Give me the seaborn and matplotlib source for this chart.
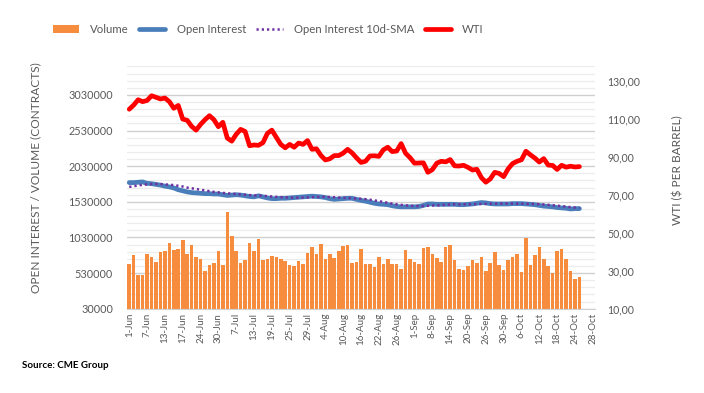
import matplotlib
matplotlib.use("Agg")
import matplotlib.pyplot as plt
import seaborn as sns
import pandas as pd
from matplotlib.lines import Line2D
from matplotlib.patches import Patch
from matplotlib.ticker import FixedLocator, FuncFormatter

# ---------------- data ----------------
tick_labels = ["1-Jun", "7-Jun", "13-Jun", "17-Jun", "24-Jun", "30-Jun", "7-Jul",
               "13-Jul", "19-Jul", "25-Jul", "29-Jul", "4-Aug", "10-Aug", "16-Aug",
               "22-Aug", "26-Aug", "1-Sep", "8-Sep", "14-Sep", "20-Sep", "26-Sep",
               "30-Sep", "6-Oct", "12-Oct", "18-Oct", "24-Oct", "28-Oct"]
n_categories = 105          # trading days 1-Jun .. 28-Oct
label_every = 4

volume = [654000, 784000, 503000, 503000, 798000, 756000, 686000, 826000, 840000, 953000,
          854000, 868000, 995000, 798000, 925000, 756000, 728000, 560000, 644000, 672000,
          840000, 644000, 1388000, 1051000, 840000, 672000, 714000, 953000, 840000, 1009000,
          714000, 728000, 770000, 756000, 728000, 700000, 644000, 630000, 700000, 658000,
          812000, 897000, 798000, 939000, 728000, 798000, 742000, 840000, 911000, 925000,
          672000, 686000, 868000, 658000, 658000, 616000, 756000, 658000, 728000, 658000,
          658000, 588000, 854000, 728000, 686000, 658000, 883000, 897000, 798000, 742000,
          686000, 897000, 925000, 714000, 588000, 574000, 630000, 714000, 672000, 756000,
          560000, 672000, 826000, 644000, 574000, 714000, 756000, 798000, 546000, 1023000,
          644000, 784000, 897000, 728000, 630000, 531000, 840000, 868000, 728000, 560000,
          447000, 475000]

open_interest = [1800000, 1800000, 1805000, 1810000, 1790000, 1785000, 1775000, 1765000, 1750000, 1740000,
                 1725000, 1700000, 1685000, 1670000, 1660000, 1655000, 1650000, 1645000, 1645000, 1640000,
                 1640000, 1630000, 1620000, 1625000, 1630000, 1625000, 1615000, 1605000, 1600000, 1615000,
                 1600000, 1585000, 1575000, 1575000, 1580000, 1580000, 1585000, 1590000, 1595000, 1600000,
                 1605000, 1610000, 1605000, 1600000, 1590000, 1575000, 1565000, 1570000, 1575000, 1580000,
                 1580000, 1565000, 1550000, 1540000, 1525000, 1510000, 1500000, 1495000, 1490000, 1475000,
                 1465000, 1460000, 1460000, 1460000, 1460000, 1465000, 1480000, 1500000, 1500000, 1495000,
                 1495000, 1495000, 1495000, 1495000, 1490000, 1490000, 1495000, 1500000, 1510000, 1520000,
                 1515000, 1505000, 1500000, 1500000, 1500000, 1500000, 1505000, 1505000, 1505000, 1500000,
                 1495000, 1490000, 1480000, 1470000, 1465000, 1460000, 1450000, 1445000, 1440000, 1430000,
                 1435000, 1435000]

oi_sma_10d = [1740000, 1750000, 1760000, 1770000, 1775000, 1780000, 1780000, 1780000, 1775000, 1770000,
              1765000, 1755000, 1745000, 1730000, 1720000, 1710000, 1700000, 1690000, 1680000, 1670000,
              1663000, 1655000, 1650000, 1645000, 1640000, 1635000, 1630000, 1625000, 1620000, 1618000,
              1615000, 1610000, 1605000, 1600000, 1595000, 1592000, 1590000, 1588000, 1588000, 1590000,
              1592000, 1595000, 1598000, 1600000, 1600000, 1598000, 1595000, 1590000, 1587000, 1585000,
              1580000, 1577000, 1573000, 1568000, 1560000, 1550000, 1540000, 1528000, 1517000, 1505000,
              1495000, 1487000, 1480000, 1475000, 1472000, 1470000, 1472000, 1475000, 1478000, 1480000,
              1484000, 1488000, 1492000, 1495000, 1495000, 1495000, 1495000, 1496000, 1498000, 1500000,
              1502000, 1504000, 1505000, 1506000, 1507000, 1507000, 1506000, 1505000, 1505000, 1504000,
              1502000, 1500000, 1497000, 1493000, 1488000, 1482000, 1476000, 1470000, 1463000, 1456000,
              1450000, 1445000]

wti = [115.0, 117.2, 120.0, 119.0, 119.6, 122.1, 121.3, 120.4, 120.9, 119.0,
       115.5, 117.0, 109.8, 109.2, 106.0, 104.0, 107.0, 109.5, 111.6, 109.5,
       105.8, 108.1, 99.8, 98.2, 101.8, 104.4, 103.3, 95.8, 96.2, 96.0,
       97.4, 102.3, 104.0, 100.2, 96.5, 94.7, 96.5, 95.0, 97.2, 96.5,
       98.5, 93.9, 94.2, 90.7, 88.3, 88.9, 90.6, 90.6, 91.9, 93.9,
       92.0, 89.4, 87.0, 87.6, 90.4, 90.5, 90.2, 93.6, 95.0, 92.7,
       93.0, 96.9, 91.8, 89.5, 86.6, 86.7, 86.8, 81.8, 83.2, 86.6,
       87.6, 87.3, 88.5, 85.2, 85.1, 85.5, 84.4, 83.0, 83.4, 79.0,
       76.6, 78.3, 81.8, 81.2, 79.5, 83.6, 86.4, 87.6, 88.4, 92.9,
       91.0, 89.3, 87.2, 89.0, 85.6, 85.4, 83.3, 85.5, 84.5, 85.0,
       84.6, 84.8]

# ---------------- styling ----------------
sns.set_style("white")
plt.rcParams["font.family"] = ["Lato", "DejaVu Sans"]
TXT = "#595959"
ORANGE = "#F68D3E"
BLUE = "#4A7EBB"
PURPLE = "#7030A0"
RED = "#FF0000"

pos = list(range(len(volume)))
df = pd.DataFrame({"pos": pos, "volume": volume, "oi": open_interest,
                   "sma": oi_sma_10d, "wti": wti})

fig = plt.figure(figsize=(7.04, 3.93), dpi=100)
ax = fig.add_axes([0.1804, 0.2145, 0.6648, 0.6163])
ax2 = ax.twinx()

sns.barplot(data=df, x="pos", y="volume", color=ORANGE, width=0.8,
            errorbar=None, saturation=1, ax=ax, zorder=2,
            linewidth=0, edgecolor="none")
sns.lineplot(data=df, x="pos", y="oi", color=BLUE, lw=3.4, ax=ax, legend=False,
             zorder=3, solid_capstyle="round", solid_joinstyle="round")
sns.lineplot(data=df, x="pos", y="sma", color=PURPLE, lw=1.8, ax=ax, legend=False,
             zorder=4, dashes=False, linestyle=(0, (0.9, 1.2)))
sns.lineplot(data=df, x="pos", y="wti", color=RED, lw=3.4, ax=ax2, legend=False,
             zorder=5, solid_capstyle="round", solid_joinstyle="round")

# left axis
ax.set_xlim(-0.5, n_categories - 0.5)
ax.set_ylim(30000, 3430000)
ax.yaxis.set_major_locator(FixedLocator([30000 + 500000 * k for k in range(7)]))
ax.yaxis.set_major_formatter(FuncFormatter(lambda v, p: f"{int(round(v))}"))
ax.yaxis.set_minor_locator(FixedLocator([30000 + 100000 * k for k in range(35)]))
ax.grid(which="major", axis="y", color="#d0d0d0", lw=1.0)
ax.grid(which="minor", axis="y", color="#ececec", lw=0.9)
ax.grid(which="both", axis="x", visible=False)
ax.set_axisbelow(True)
ax.tick_params(axis="y", which="both", length=0, labelsize=7.8, labelcolor=TXT, pad=10)

# x axis
ax.xaxis.set_major_locator(FixedLocator(list(range(0, n_categories, label_every))))
ax.set_xticklabels(tick_labels, rotation=90, fontsize=7, color=TXT)
ax.xaxis.set_minor_locator(FixedLocator([k - 0.5 for k in range(n_categories + 1)]))
ax.tick_params(axis="x", which="major", length=0, pad=3)
ax.tick_params(axis="x", which="minor", length=3.5, color="#bfbfbf", width=0.8)
ax.set_xlabel("")
ax.set_ylabel("OPEN INTEREST / VOLUME (CONTRACTS)", fontsize=8.6, color=TXT)
ax.yaxis.set_label_coords(-0.184, 0.54)
for s in ["top", "left", "right"]:
    ax.spines[s].set_visible(False)
ax.spines["bottom"].set_color("#d0d0d0")

# right axis
ax2.set_ylim(10, 137.5)
ax2.yaxis.set_major_locator(FixedLocator([10, 30, 50, 70, 90, 110, 130]))
ax2.yaxis.set_major_formatter(FuncFormatter(lambda v, p: f"{v:.2f}".replace(".", ",")))
ax2.tick_params(axis="y", length=0, labelsize=7.6, labelcolor=TXT, pad=9)
ax2.set_ylabel(r"WTI (\$ PER BARREL)", fontsize=8.6, color=TXT)
ax2.yaxis.set_label_coords(1.1645, 0.573)
ax2.set_xlabel("")
for s in ax2.spines.values():
    s.set_visible(False)
ax2.grid(False)

# legend
handles = [Patch(facecolor=ORANGE, edgecolor="none"),
           Line2D([], [], color=BLUE, lw=3.4, solid_capstyle="round"),
           Line2D([], [], color=PURPLE, lw=1.8, linestyle=(0, (0.9, 1.2))),
           Line2D([], [], color=RED, lw=3.4, solid_capstyle="round")]
labels = ["Volume", "Open Interest", "Open Interest 10d-SMA", "WTI"]
fig.legend(handles, labels, loc="center", bbox_to_anchor=(0.381, 0.924), ncol=4,
           frameon=False, fontsize=8.2, labelcolor=TXT, handlelength=2.3,
           handleheight=0.7, columnspacing=0.9, handletextpad=1.0)

fig.text(0.031, 0.063, "Source: CME Group", fontsize=7, fontweight="bold", color="#000000")

fig.savefig("out.png", dpi=100)
